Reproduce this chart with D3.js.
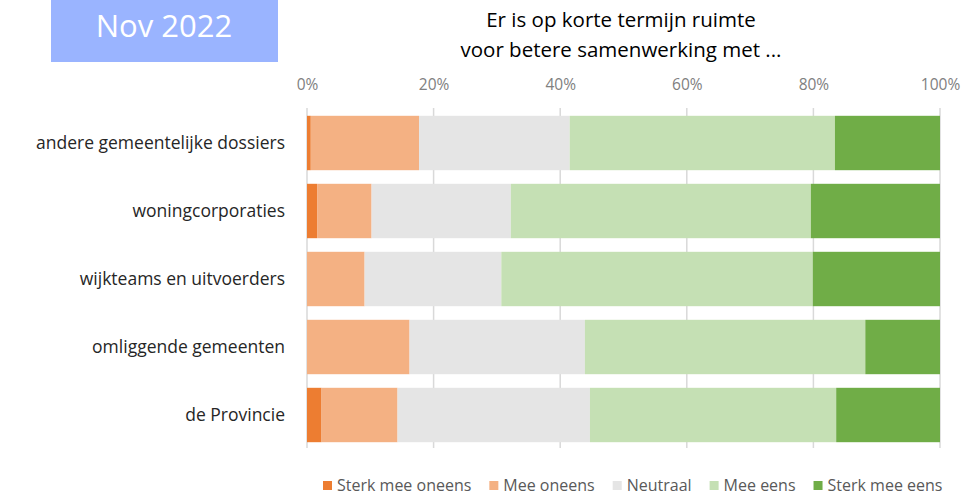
<!DOCTYPE html>
<html>
<head>
<meta charset="utf-8">
<script src="https://cdn.jsdelivr.net/npm/d3@7"></script>
<style>
  body { margin: 0; background: #fff; }
  svg text { font-family: "Open Sans", sans-serif; }
</style>
</head>
<body>
<div id="chart"></div>
<script>
//Datos
const categorias = ['andere gemeentelijke dossiers', 'woningcorporaties', 'wijkteams en uitvoerders', 'omliggende gemeenten', 'de Provincie'];
const series = ['Sterk mee oneens', 'Mee oneens', 'Neutraal', 'Mee eens', 'Sterk mee eens'];
const sterkOneens = [0.6, 1.6, 0, 0, 2.3];
const oneens = [17.1, 8.6, 9.1, 16.2, 12.0];
const neutraal = [23.8, 22.0, 21.6, 27.7, 30.4];
const eens = [41.9, 47.4, 49.2, 44.3, 38.9];
const sterkEens = [16.6, 20.4, 20.1, 11.8, 16.4];
const ticks = [0, 20, 40, 60, 80, 100];
const titel = ['Er is op korte termijn ruimte', 'voor betere samenwerking met ...'];
const periode = 'Nov 2022';

//Colores
const colores = ['#ED7D31', '#F4B183', '#E5E5E5', '#C5E0B4', '#70AD47'];

let data = categorias.map(function(c, i) {
    let row = { cat: c };
    row[series[0]] = sterkOneens[i];
    row[series[1]] = oneens[i];
    row[series[2]] = neutraal[i];
    row[series[3]] = eens[i];
    row[series[4]] = sterkEens[i];
    return row;
});

let width = 978, height = 500;

let svg = d3.select('#chart')
    .append('svg')
    .attr('width', width)
    .attr('height', height);

//Etiqueta periodo
svg.append('rect')
    .attr('x', 51).attr('y', 0)
    .attr('width', 227).attr('height', 62)
    .attr('fill', '#9AB4FF');

svg.append('text')
    .attr('x', 164).attr('y', 37)
    .attr('text-anchor', 'middle')
    .attr('fill', '#fff')
    .style('font-size', '31px')
    .text(periode);

//Titulo
svg.append('g')
    .selectAll('text')
    .data(titel)
    .enter()
    .append('text')
    .attr('x', 621)
    .attr('y', function(d, i) { return 27 + i * 30; })
    .attr('text-anchor', 'middle')
    .attr('fill', '#000')
    .style('font-size', '20.5px')
    .text(function(d) { return d; });

//Escalas
let x = d3.scaleLinear()
    .domain([0, 100])
    .range([307, 940]);

let y = d3.scaleBand()
    .domain(categorias)
    .range([109, 449])
    .paddingInner(0.2)
    .paddingOuter(0.1);

let color = d3.scaleOrdinal()
    .domain(series)
    .range(colores);

//Eje x arriba con lineas de cuadricula
let xAxis = function(g) {
    g.call(d3.axisTop(x).tickValues(ticks).tickFormat(function(d) { return d + '%'; }).tickSize(0).tickPadding(0));
    g.call(function(g) { g.select('.domain').remove(); });
    g.selectAll('.tick text')
        .attr('y', 0)
        .attr('dy', 0)
        .attr('fill', '#808080')
        .style('font-size', '15.5px');
};

svg.append('g')
    .attr('transform', 'translate(0,90)')
    .call(xAxis);

svg.append('g')
    .selectAll('line')
    .data(ticks)
    .enter()
    .append('line')
    .attr('x1', function(d) { return x(d); })
    .attr('x2', function(d) { return x(d); })
    .attr('y1', 108)
    .attr('y2', 448)
    .attr('stroke', '#D9D9D9')
    .attr('stroke-width', 1.5);

//Barras apiladas
let stacked = d3.stack().keys(series)(data);

svg.append('g')
    .selectAll('g')
    .data(stacked)
    .enter()
    .append('g')
    .attr('fill', function(d) { return color(d.key); })
    .selectAll('rect')
    .data(function(d) { return d; })
    .enter()
    .append('rect')
    .attr('x', function(d) { return x(d[0]); })
    .attr('y', function(d) { return y(d.data.cat); })
    .attr('width', function(d) { return x(d[1]) - x(d[0]); })
    .attr('height', y.bandwidth());

//Eje y
let yAxis = function(g) {
    g.call(d3.axisLeft(y).tickSize(0).tickPadding(0));
    g.call(function(g) { g.select('.domain').remove(); });
    g.selectAll('.tick text')
        .attr('fill', '#262626')
        .style('font-size', '17.5px');
};

svg.append('g')
    .attr('transform', 'translate(285,0)')
    .call(yAxis);

//Leyenda
let legend = svg.append('g').attr('transform', 'translate(323,491)');
let lx = 0;
series.forEach(function(s, i) {
    let item = legend.append('g').attr('transform', 'translate(' + lx + ',0)');
    item.append('rect')
        .attr('x', 0).attr('y', -10)
        .attr('width', 9).attr('height', 9)
        .attr('fill', color(s));
    let t = item.append('text')
        .attr('x', 14).attr('y', 0)
        .attr('fill', '#595959')
        .style('font-size', '16px')
        .text(s);
    lx += 14 + t.node().getComputedTextLength() + 18;
});
</script>
</body>
</html>
